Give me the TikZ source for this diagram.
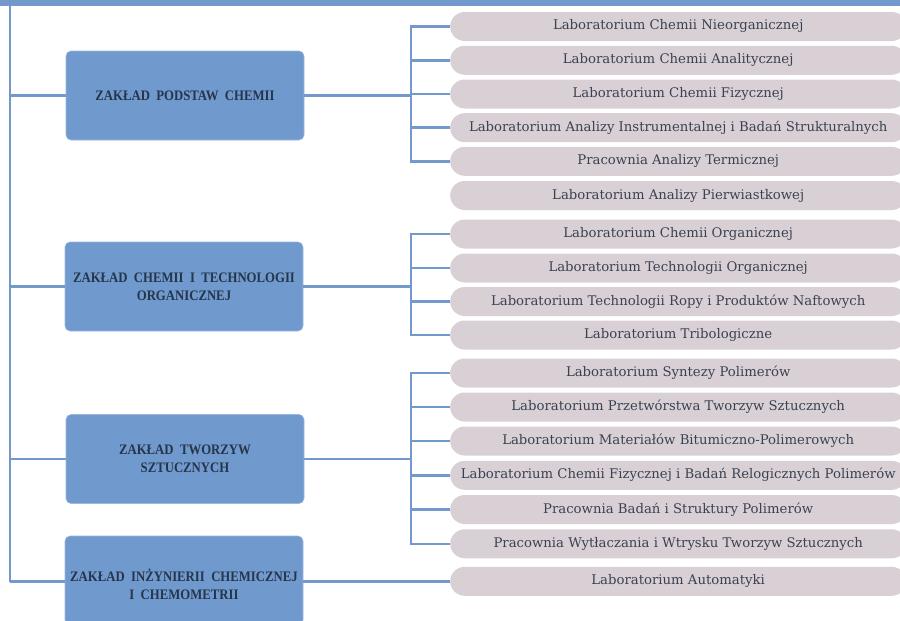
\documentclass[tikz,border=0pt]{standalone}
\usepackage{fontspec}
\setmainfont{DejaVu Serif}
\newfontfamily\headfont[FakeStretch=0.88]{Liberation Serif}
\definecolor{lineblue}{HTML}{7398CC}
\definecolor{boxblue}{HTML}{7099CE}
\definecolor{pillfill}{HTML}{D9D0D6}
\definecolor{headtext}{HTML}{26354A}
\definecolor{pilltext}{HTML}{3B4150}
\begin{document}
\begin{tikzpicture}[x=1pt,y=-1pt,
  conn/.style={draw=lineblue,line width=2.6pt},
  headtxt/.style={text=headtext,align=center,font=\headfont\bfseries\fontsize{14.5}{18}\selectfont},
  deptbox/.style={rectangle,rounded corners=5pt,fill=boxblue,draw=boxblue!70!white,line width=0.6pt,
    minimum width=238pt,minimum height=89pt,headtxt},
  pill/.style={rectangle,rounded corners=14.5pt,fill=pillfill,minimum width=456pt,minimum height=29pt,
    anchor=west,text=pilltext,text height=10pt,text depth=3pt,inner sep=0pt,
    font=\fontsize{13.25}{16}\selectfont}]
\useasboundingbox (0,0) rectangle (900,621);
\clip (0,0) rectangle (900,621);
\fill[lineblue] (0,0) rectangle (900,5.5);
% department boxes
\node[deptbox] (b1) at (185,95.5) {ZAKŁAD\ \ PODSTAW\ \ CHEMII};
\node[deptbox] (b2) at (184,286.5) {ZAKŁAD\ \ CHEMII\ \ I\ \ TECHNOLOGII\\ORGANICZNEJ};
\node[deptbox] (b3) at (185,459) {ZAKŁAD\ \ TWORZYW\\SZTUCZNYCH};
\node[deptbox] (b4) at (184,580.5) {};
\node[headtxt] (b4t) at ([yshift=-3.5pt]b4.center) {ZAKŁAD\ \ INŻYNIERII\ \ CHEMICZNEJ\\I\ \ CHEMOMETRII};
% labs
\node[pill] (p1) at (450,26.5) {Laboratorium Chemii Nieorganicznej};
\node[pill] (p2) at (450,60.3) {Laboratorium Chemii Analitycznej};
\node[pill] (p3) at (450,94) {Laboratorium Chemii Fizycznej};
\node[pill] (p4) at (450,127.7) {Laboratorium Analizy Instrumentalnej i Badań Strukturalnych};
\node[pill] (p5) at (450,161.3) {Pracownia Analizy Termicznej};
\node[pill] (p6) at (450,195.5) {Laboratorium Analizy Pierwiastkowej};
\node[pill] (p7) at (450,234) {Laboratorium Chemii Organicznej};
\node[pill] (p8) at (450,268) {Laboratorium Technologii Organicznej};
\node[pill] (p9) at (450,301.5) {Laboratorium Technologii Ropy i Produktów Naftowych};
\node[pill] (p10) at (450,335) {Laboratorium Tribologiczne};
\node[pill] (p11) at (450,373) {Laboratorium Syntezy Polimerów};
\node[pill] (p12) at (450,407) {Laboratorium Przetwórstwa Tworzyw Sztucznych};
\node[pill] (p13) at (450,441) {Laboratorium Materiałów Bitumiczno-Polimerowych};
\node[pill] (p14) at (450,475.3) {Laboratorium Chemii Fizycznej i Badań Relogicznych Polimerów};
\node[pill] (p15) at (450,509.5) {Pracownia Badań i Struktury Polimerów};
\node[pill] (p16) at (450,543.8) {Pracownia Wytłaczania i Wtrysku Tworzyw Sztucznych};
\node[pill] (p17) at (450,581.3) {Laboratorium Automatyki};
% trunk
\coordinate (ttop) at (10,3);
\coordinate (tbot) at (10,582);
\coordinate (br) at (411,0);
\draw[conn] (ttop) -- (tbot);
\draw[conn] (b1.west) -- (b1.west -| ttop);
\draw[conn] (b2.west) -- (b2.west -| ttop);
\draw[conn] (b3.west) -- (b3.west -| ttop);
\draw[conn] (b4.west |- p17.west) -- (p17.west -| ttop);
% brackets
\draw[conn] (p1.west) -- (p1.west -| br) -- (p5.west -| br) -- (p5.west);
\foreach \p in {p2,p3,p4} \draw[conn] (\p.west) -- (\p.west -| br);
\draw[conn] (b1.east) -- (b1.east -| br);
\draw[conn] (p7.west) -- (p7.west -| br) -- (p10.west -| br) -- (p10.west);
\foreach \p in {p8,p9} \draw[conn] (\p.west) -- (\p.west -| br);
\draw[conn] (b2.east) -- (b2.east -| br);
\draw[conn] (p11.west) -- (p11.west -| br) -- (p16.west -| br) -- (p16.west);
\foreach \p in {p12,p13,p14,p15} \draw[conn] (\p.west) -- (\p.west -| br);
\draw[conn] (b3.east) -- (b3.east -| br);
\draw[conn] (b4.east |- p17.west) -- (p17.west);
\end{tikzpicture}
\end{document}
